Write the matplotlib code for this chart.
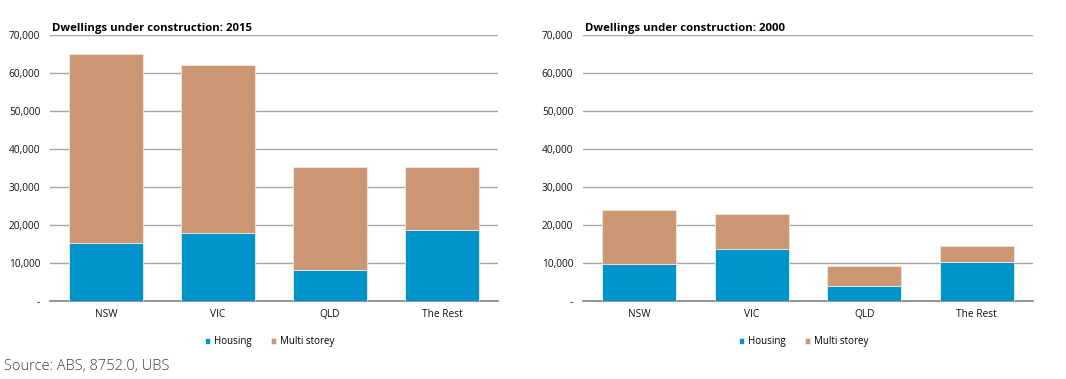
import matplotlib.pyplot as plt
from matplotlib.ticker import FuncFormatter

# Data
categories = ["NSW", "VIC", "QLD", "The Rest"]
housing_2015 = [15300, 18000, 8200, 18800]
multi_2015 = [49700, 44000, 27000, 16500]
housing_2000 = [9800, 13800, 4000, 10200]
multi_2000 = [14100, 9200, 5200, 4200]

BLUE = "#0093c9"
TAN = "#cc9873"
GRID = "#a6a6a6"

plt.rcParams['font.family'] = ['Open Sans', 'DejaVu Sans']


def fmt(v, pos):
    return "-" if v == 0 else f"{int(v):,}"


def draw_panel(ax, housing, multi, title):
    x = range(len(categories))
    ax.bar(x, housing, width=0.66, color=BLUE, edgecolor="#e8f4f8",
           linewidth=0.6, label="Housing", zorder=3)
    ax.bar(x, multi, width=0.66, bottom=housing, color=TAN, edgecolor="#f2e6dc",
           linewidth=0.6, label="Multi storey", zorder=3)
    ax.set_xlim(-0.5, 3.5)
    ax.set_ylim(0, 70000)
    ax.set_yticks(range(0, 70001, 10000))
    ax.yaxis.set_major_formatter(FuncFormatter(fmt))
    ax.grid(axis="y", color=GRID, linewidth=1, zorder=0)
    for s in ["top", "right", "left"]:
        ax.spines[s].set_visible(False)
    ax.spines["bottom"].set_color("#808080")
    ax.spines["bottom"].set_linewidth(1.2)
    ax.tick_params(length=0, labelsize=7.3, colors="#111111")
    ax.tick_params(axis="y", pad=7)
    ax.tick_params(axis="x", pad=6)
    ax.set_xticks(list(x))
    ax.set_xticklabels(categories)
    ax.text(0.005, 1.004, title, transform=ax.transAxes, fontsize=8.2,
            fontweight="bold", ha="left", va="bottom")
    ax.legend(loc="upper center", bbox_to_anchor=(0.49, -0.1), ncol=2,
              frameon=False, fontsize=7, handlelength=0.5, handleheight=0.5,
              columnspacing=2.0, handletextpad=0.4)


fig = plt.figure(figsize=(10.66, 3.79), dpi=100)
ax1 = fig.add_axes([0.0469, 0.2058, 0.4203, 0.7018])
ax2 = fig.add_axes([0.5469, 0.2058, 0.4221, 0.7018])

draw_panel(ax1, housing_2015, multi_2015, "Dwellings under construction: 2015")
draw_panel(ax2, housing_2000, multi_2000, "Dwellings under construction: 2000")

fig.text(0.004, 0.012, "Source: ABS, 8752.0, UBS", fontsize=10.5, color="#404040",
         ha="left", va="bottom", fontweight="light")

fig.savefig("out.png", dpi=100)
